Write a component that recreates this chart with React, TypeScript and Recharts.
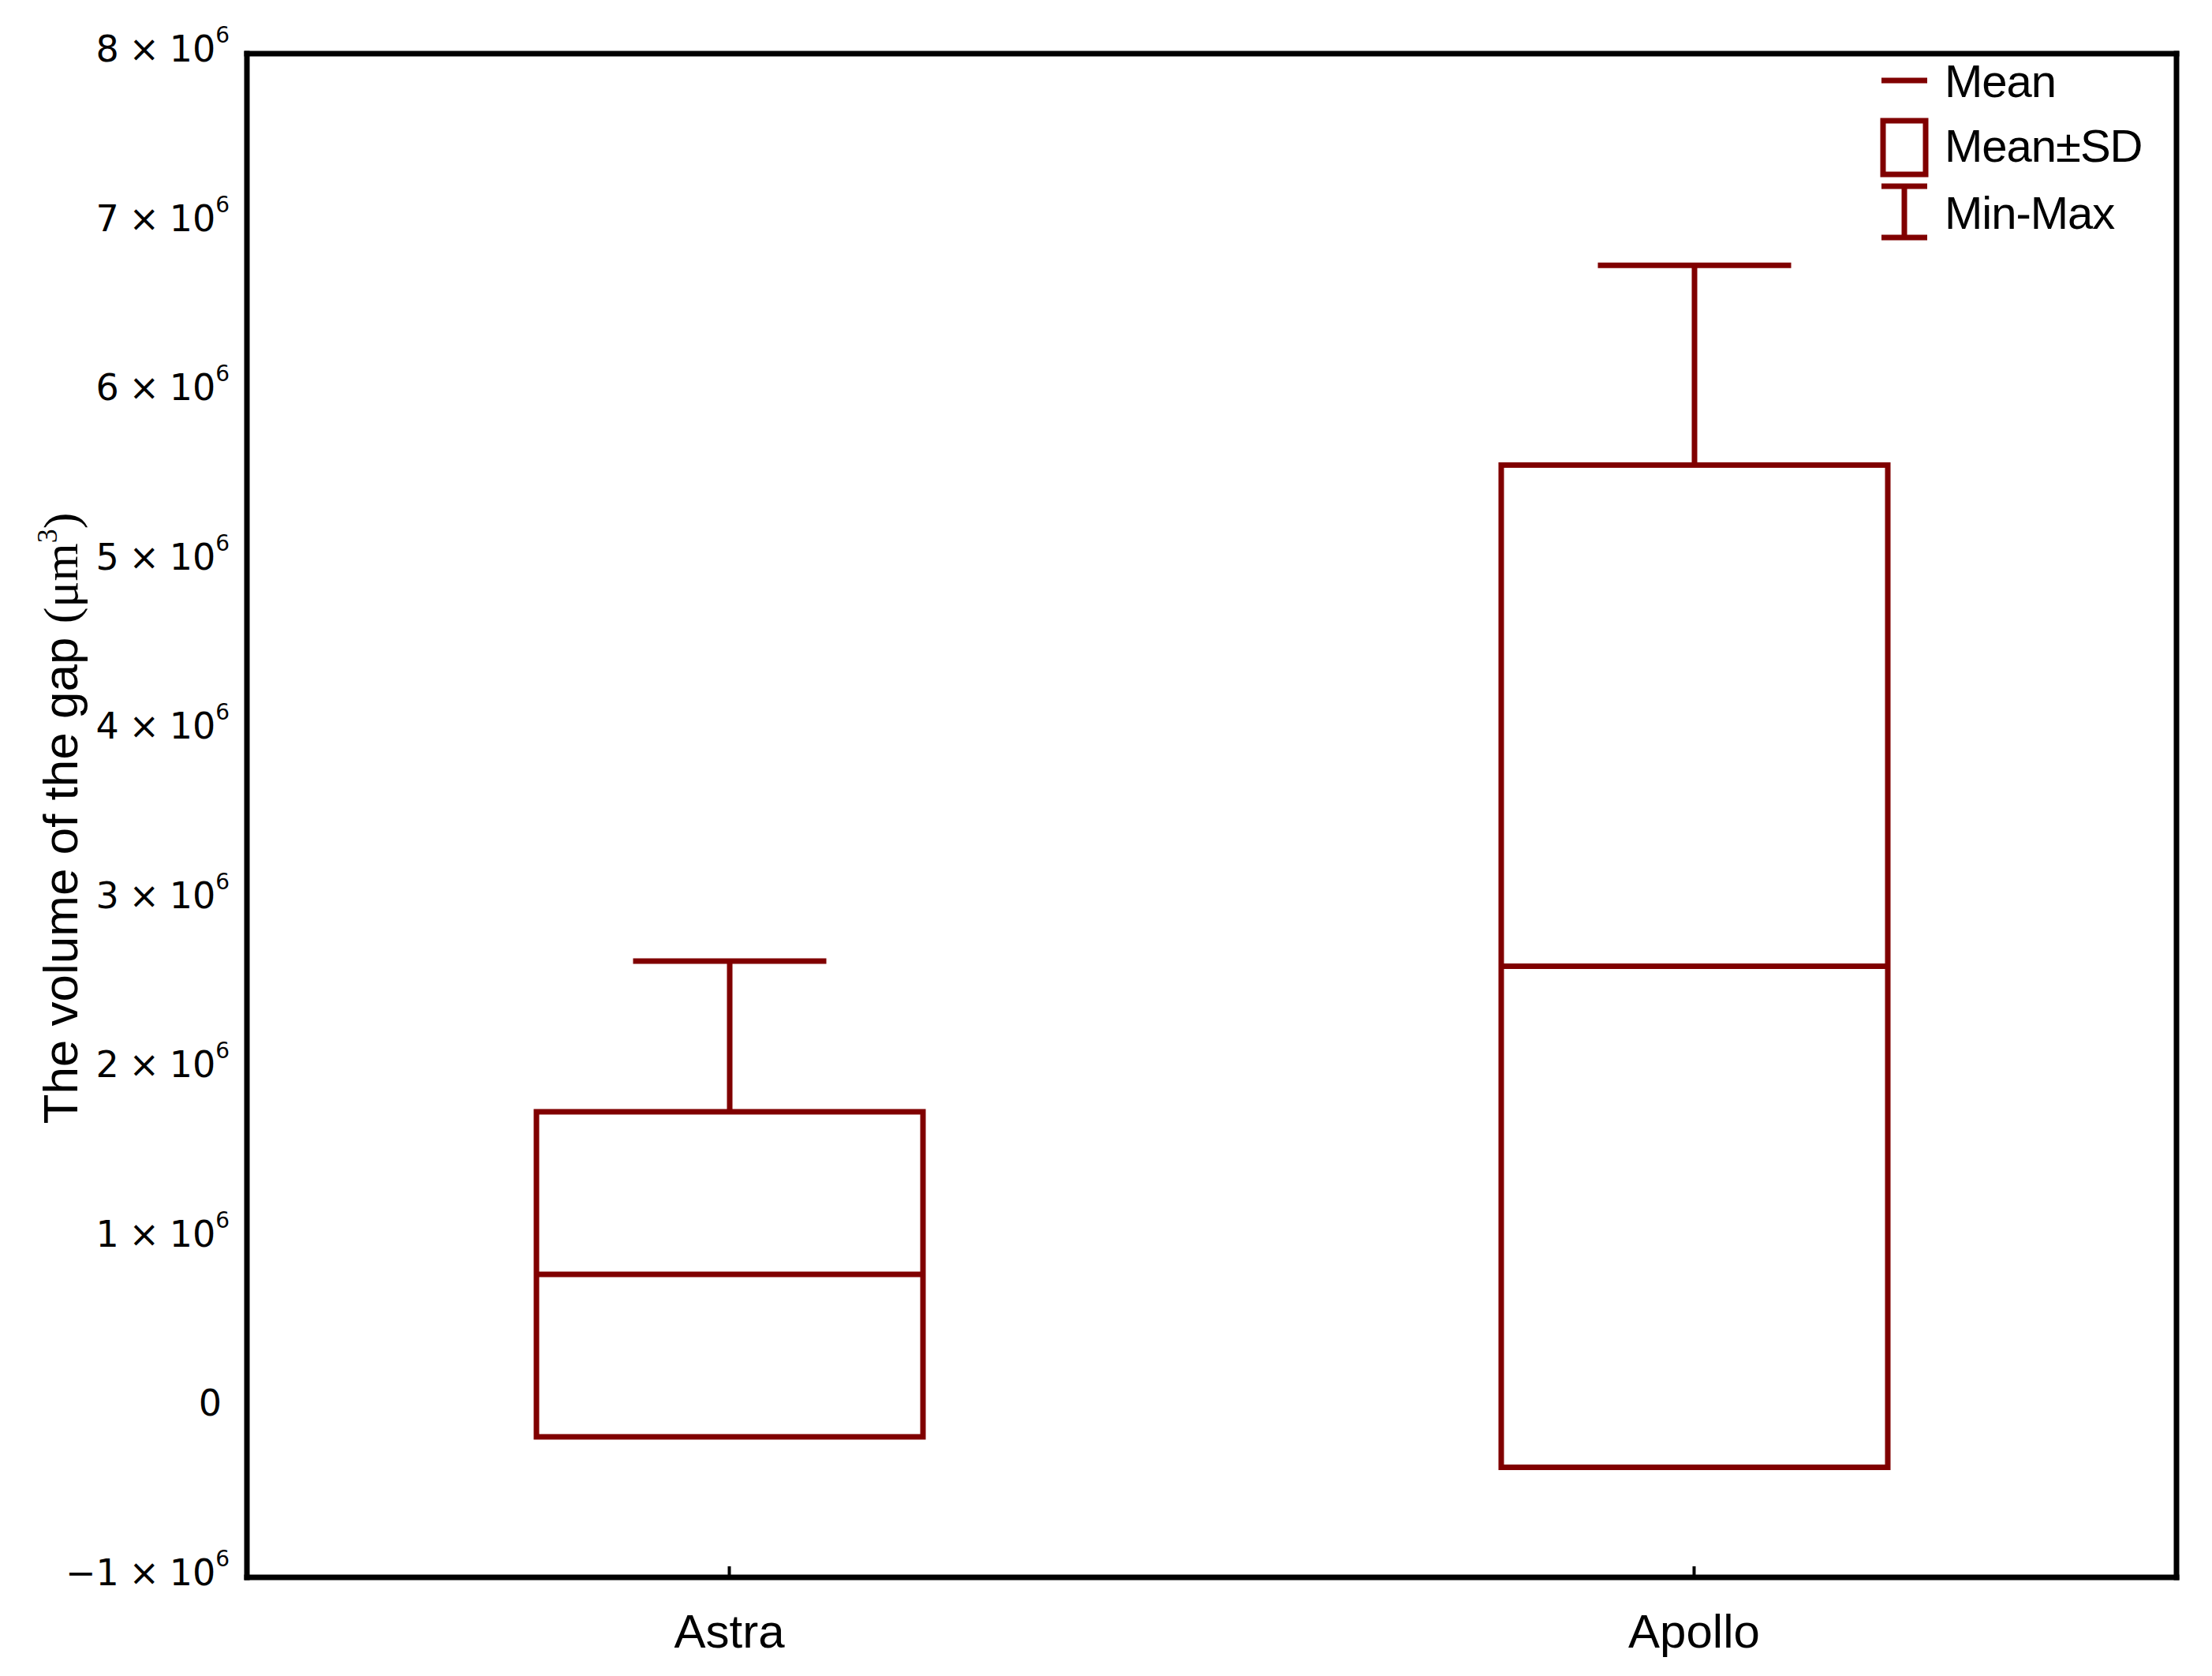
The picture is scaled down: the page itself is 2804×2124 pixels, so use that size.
import React from 'react';
import { ComposedChart, Bar, XAxis, YAxis } from 'recharts';

// ---- data ----
const categories = ['Astra', 'Apollo'];
const means = [0.79e6, 2.61e6];
const sds = [0.96e6, 2.96e6];
const maxs = [2.64e6, 6.75e6];
const yTicks = [-1e6, 0, 1e6, 2e6, 3e6, 4e6, 5e6, 6e6, 7e6, 8e6];
const rightTicks = [0, 1e6, 2e6, 3e6, 4e6, 5e6, 6e6, 7e6];
const legendItems = ['Mean', 'Mean±SD', 'Min-Max'];

const data = categories.map((name, i) => ({
  name,
  mean: means[i],
  sd: sds[i],
  max: maxs[i],
  box: [means[i] - sds[i], means[i] + sds[i]],
}));

const RED = '#800000';
const W = 2804;
const H = 2124;
const LW = 7;
const FW = 7;

const BoxShape = (props: any) => {
  const { x, y, width, height, payload } = props;
  const lo = payload.mean - payload.sd;
  const hi = payload.mean + payload.sd;
  const top = Math.min(y, y + height);
  const h = Math.abs(height);
  const k = h / (hi - lo);
  const yOf = (v: number) => top + (hi - v) * k;
  const cx = x + width / 2;
  const yMax = yOf(payload.max);
  const yMean = yOf(payload.mean);
  return (
    <g>
      <line x1={cx} x2={cx} y1={top} y2={yMax} stroke={RED} strokeWidth={LW} />
      <line x1={cx - width / 4} x2={cx + width / 4} y1={yMax} y2={yMax} stroke={RED} strokeWidth={LW} />
      <rect x={x} y={top} width={width} height={h} fill="none" stroke={RED} strokeWidth={LW} />
      <line x1={x} x2={x + width} y1={yMean} y2={yMean} stroke={RED} strokeWidth={LW} />
    </g>
  );
};

const LeftTick = (props: any) => {
  const { x, y, payload } = props;
  const v = payload.value / 1e6;
  const common = {
    fontFamily: 'DejaVu Sans, Verdana, sans-serif',
    fontSize: 46,
    fill: '#000',
    dominantBaseline: 'central' as any,
    textAnchor: 'end' as any,
  };
  if (v === 0) {
    return (
      <text x={x - 32} y={y - 6} {...common}>
        0
      </text>
    );
  }
  const s = v < 0 ? '\u2212' + Math.abs(v) : String(v);
  return (
    <text x={x - 22} y={y - 6} {...common}>
      {s}
      <tspan dx={-2}> × </tspan>
      <tspan dx={-2}>10</tspan>
      <tspan dy={-18} fontSize={28}>
        6
      </tspan>
    </text>
  );
};

const BottomTick = (props: any) => {
  const { x, y, payload } = props;
  return (
    <g>
      <line x1={x} x2={x} y1={y} y2={y - 14} stroke="#000" strokeWidth={4} />
      <text
        x={x}
        y={y + 68}
        textAnchor="middle"
        dominantBaseline="central"
        fontFamily="Liberation Sans, Arial, sans-serif"
        fontSize={60}
        fill="#000"
      >
        {payload.value}
      </text>
    </g>
  );
};

const RightTick = (props: any) => {
  const { x, y } = props;
  return <line x1={x} x2={x - 14} y1={y} y2={y} stroke="#000" strokeWidth={4} />;
};

const Overlay = () => (
  <svg
    width={W}
    height={H}
    style={{ position: 'absolute', left: 0, top: 0, pointerEvents: 'none' }}
  >
    <text
      transform="translate(98, 1037) rotate(-90)"
      textAnchor="middle"
      fontFamily="Liberation Sans, Arial, sans-serif"
      fontSize={62}
      fill="#000"
    >
      The volume of the gap{' '}
      <tspan fontFamily="Liberation Serif, Times New Roman, serif">(μm</tspan>
      <tspan dy={-26} fontSize={36} fontFamily="Liberation Serif, Times New Roman, serif">
        3
      </tspan>
      <tspan dy={26} fontFamily="Liberation Serif, Times New Roman, serif">
        )
      </tspan>
    </text>
    {/* legend */}
    <line x1={2385} x2={2443} y1={102} y2={102} stroke={RED} strokeWidth={LW} />
    <rect x={2387} y={153} width={54} height={68} fill="none" stroke={RED} strokeWidth={LW} />
    <line x1={2385} x2={2443} y1={236} y2={236} stroke={RED} strokeWidth={LW} />
    <line x1={2414} x2={2414} y1={236} y2={301} stroke={RED} strokeWidth={LW} />
    <line x1={2385} x2={2443} y1={301} y2={301} stroke={RED} strokeWidth={LW} />
    {legendItems.map((t, i) => (
      <text
        key={t}
        x={2465}
        y={[123, 205, 290][i]}
        fontFamily="Liberation Sans, Arial, sans-serif"
        fontSize={58}
        letterSpacing={-1}
        fill="#000"
      >
        {t}
      </text>
    ))}
  </svg>
);

export default function App() {
  return (
    <div style={{ position: 'absolute', left: 0, top: 0, width: W, height: H, background: '#fff' }}>
      <ComposedChart
        width={W}
        height={H}
        data={data}
        margin={{ top: 0, right: 0, bottom: 0, left: 0 }}
      >
        <XAxis
          dataKey="name"
          type="category"
          height={125}
          interval={0}
          axisLine={{ stroke: '#000', strokeWidth: FW, strokeLinecap: 'square' } as any}
          tickLine={false}
          tickSize={0}
          tickMargin={0}
          tick={<BottomTick />}
        />
        <XAxis
          xAxisId="top"
          dataKey="name"
          orientation="top"
          height={68}
          axisLine={{ stroke: '#000', strokeWidth: FW, strokeLinecap: 'square' } as any}
          tickLine={false}
          tick={false}
        />
        <YAxis
          type="number"
          domain={[-1e6, 8e6]}
          ticks={yTicks}
          interval={0}
          width={313}
          axisLine={{ stroke: '#000', strokeWidth: FW, strokeLinecap: 'square' } as any}
          tickLine={false}
          tickSize={0}
          tickMargin={0}
          tick={<LeftTick />}
        />
        <YAxis
          yAxisId="r"
          orientation="right"
          type="number"
          domain={[-1e6, 8e6]}
          ticks={rightTicks}
          interval={0}
          width={45}
          axisLine={{ stroke: '#000', strokeWidth: FW, strokeLinecap: 'square' } as any}
          tickLine={false}
          tickSize={0}
          tickMargin={0}
          tick={<RightTick />}
        />
        <Bar dataKey="box" barSize={490} shape={<BoxShape />} isAnimationActive={false} />
      </ComposedChart>
      <Overlay />
    </div>
  );
}
